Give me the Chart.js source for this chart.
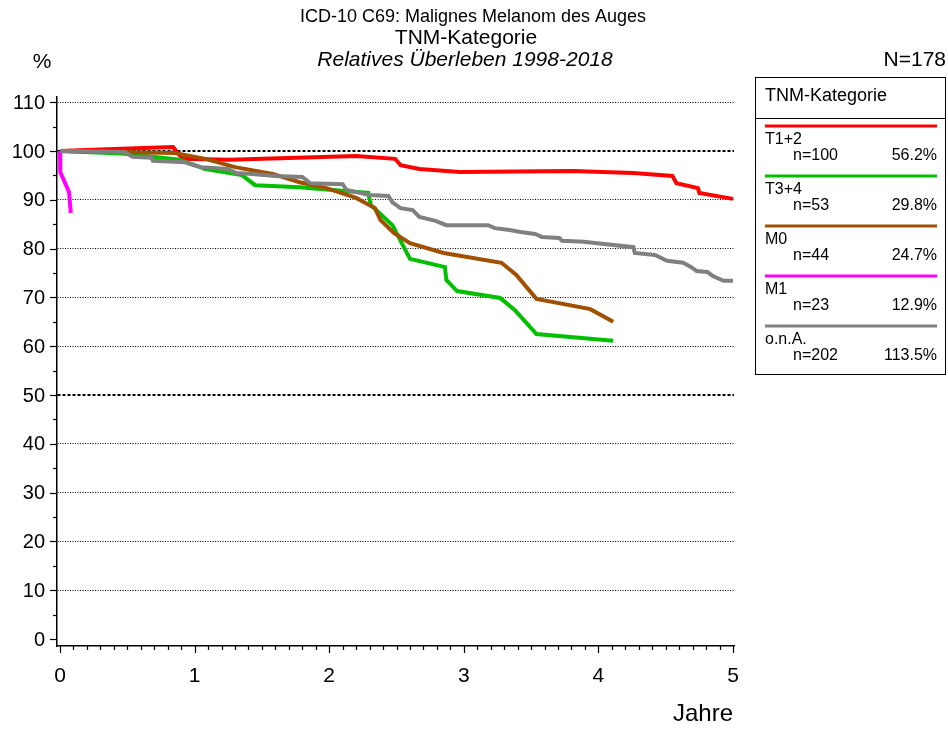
<!DOCTYPE html>
<html>
<head>
<meta charset="utf-8">
<script src="https://cdn.jsdelivr.net/npm/chart.js@4"></script>
<style>
    body { margin: 0; background: #fff; }
    #wrap { width: 948px; height: 729px; }
</style>
</head>
<body>
<div id="wrap"><canvas id="chart-survival" width="948" height="729"></canvas></div>
<script>
const CATEGORIES = ["T1+2", "T3+4", "M0", "M1", "o.n.A."];
const COUNTS = ["n=100", "n=53", "n=44", "n=23", "n=202"];
const SHARES = ["56.2%", "29.8%", "24.7%", "12.9%", "113.5%"];

const T12_YEARS = [0, 0.4, 0.84, 0.91, 1.26, 2.2, 2.49, 2.53, 2.67, 2.97, 3.81, 4.26, 4.55, 4.58, 4.74, 4.75, 5.0];
const T12_SURV = [100, 100.4, 100.8, 98.4, 98.2, 99.0, 98.4, 97.1, 96.3, 95.7, 95.9, 95.5, 94.9, 93.4, 92.4, 91.4, 90.2];

const T34_YEARS = [0, 0.46, 0.89, 1.0, 1.08, 1.35, 1.45, 1.78, 2.29, 2.31, 2.47, 2.6, 2.86, 2.87, 2.95, 3.27, 3.38, 3.54, 4.11];
const T34_SURV = [100, 99.5, 98.2, 97.1, 96.3, 95.1, 93.0, 92.6, 91.4, 88.9, 84.8, 77.9, 76.2, 73.6, 71.3, 69.9, 67.4, 62.5, 61.1];

const M0_YEARS = [0, 0.85, 1.08, 1.3, 1.58, 1.78, 1.98, 2.2, 2.34, 2.38, 2.48, 2.6, 2.85, 3.28, 3.39, 3.54, 3.94, 4.11];
const M0_SURV = [100, 99.6, 98.4, 96.7, 95.3, 93.6, 92.4, 90.4, 88.3, 85.9, 83.2, 81.1, 79.1, 77.1, 74.6, 69.7, 67.6, 65.0];

const M1_YEARS = [0, 0.002, 0.067, 0.08];
const M1_SURV = [100, 95.7, 91.6, 87.3];

const ONA_YEARS = [0, 0.48, 0.54, 0.68, 0.69, 0.93, 0.99, 1.05, 1.25, 1.31, 1.43, 1.6, 1.8, 1.86, 2.1, 2.13, 2.3, 2.44, 2.47, 2.53, 2.62, 2.67, 2.79, 2.87, 3.18, 3.23, 3.34, 3.42, 3.53, 3.58, 3.71, 3.73, 3.89, 4.26, 4.27, 4.42, 4.51, 4.63, 4.69, 4.73, 4.81, 4.85, 4.93, 5.0];
const ONA_SURV = [100, 99.8, 98.8, 98.6, 98.0, 97.7, 97.1, 96.7, 96.3, 95.5, 95.3, 94.9, 94.7, 93.4, 93.2, 92.0, 91.0, 90.8, 89.5, 88.3, 87.9, 86.5, 85.7, 84.8, 84.8, 84.2, 83.8, 83.4, 83.0, 82.4, 82.2, 81.6, 81.4, 80.3, 79.1, 78.7, 77.5, 77.1, 76.2, 75.4, 75.2, 74.4, 73.4, 73.4];

const Y_TICKS = [0, 10, 20, 30, 40, 50, 60, 70, 80, 90, 100, 110];
const X_TICKS = [0, 1, 2, 3, 4, 5];

const COLORS = ["#ff0000", "#00c000", "#a05000", "#ff00ff", "#808080"];
const FONT = "'Liberation Sans', Arial, sans-serif";

const pairs = (xs, ys) => xs.map((x, i) => ({ x, y: ys[i] }));
const series = [
    pairs(T12_YEARS, T12_SURV),
    pairs(T34_YEARS, T34_SURV),
    pairs(M0_YEARS, M0_SURV),
    pairs(M1_YEARS, M1_SURV),
    pairs(ONA_YEARS, ONA_SURV),
];

const isBold = (c) => c.tick && (c.tick.value === 50 || c.tick.value === 100);

// axes ticks, labels, titles and the boxed legend
const decorPlugin = {
    id: "decor",
    afterDraw(chart) {
        const { ctx, chartArea: area } = chart;
        const xs = chart.scales.x;
        const ys = chart.scales.y;
        ctx.save();
        ctx.strokeStyle = "#000";
        ctx.fillStyle = "#000";
        ctx.lineWidth = 1.2;

        for (let v = 0; v <= 110; v += 5) {
            const py = Math.round(ys.getPixelForValue(v)) + 0.5;
            const len = v % 10 === 0 ? 7 : 4;
            ctx.beginPath();
            ctx.moveTo(area.left - len, py);
            ctx.lineTo(area.left, py);
            ctx.stroke();
        }
        for (let i = 0; i <= 50; i++) {
            const px = Math.round(xs.getPixelForValue(i / 10)) + 0.5;
            const len = i % 10 === 0 ? 7 : 4;
            ctx.beginPath();
            ctx.moveTo(px, area.bottom);
            ctx.lineTo(px, area.bottom + len);
            ctx.stroke();
        }

        ctx.font = `20px ${FONT}`;
        ctx.textAlign = "right";
        ctx.textBaseline = "middle";
        Y_TICKS.forEach((v) => {
            ctx.fillText(String(v), 45, ys.getPixelForValue(v) + 1);
        });
        ctx.font = `21px ${FONT}`;
        ctx.textAlign = "center";
        X_TICKS.forEach((v) => {
            ctx.fillText(String(v), xs.getPixelForValue(v), 676);
        });

        ctx.font = `24px ${FONT}`;
        ctx.textAlign = "right";
        ctx.fillText("Jahre", 733, 714);

        ctx.textAlign = "center";
        ctx.font = `18px ${FONT}`;
        ctx.fillText("ICD-10 C69: Malignes Melanom des Auges", 473, 17);
        ctx.font = `21px ${FONT}`;
        ctx.fillText("TNM-Kategorie", 466, 38);
        ctx.font = `italic 21px ${FONT}`;
        ctx.fillText("Relatives Überleben 1998-2018", 465, 60);
        ctx.font = `21px ${FONT}`;
        ctx.fillText("%", 42, 62);
        ctx.textAlign = "right";
        ctx.fillText("N=178", 946, 60);

        // legend box
        ctx.lineWidth = 1;
        ctx.strokeRect(755.5, 77.5, 190, 297);
        ctx.beginPath();
        ctx.moveTo(755, 118.5);
        ctx.lineTo(946, 118.5);
        ctx.stroke();
        ctx.textAlign = "left";
        ctx.font = `18px ${FONT}`;
        ctx.fillText("TNM-Kategorie", 765, 96);

        CATEGORIES.forEach((name, i) => {
            const top = 126 + i * 50;
            ctx.strokeStyle = COLORS[i];
            ctx.lineWidth = 3;
            ctx.beginPath();
            ctx.moveTo(765, top);
            ctx.lineTo(937, top);
            ctx.stroke();
            ctx.font = `16px ${FONT}`;
            ctx.textAlign = "left";
            ctx.fillText(name, 765, top + 14);
            ctx.fillText(COUNTS[i], 793, top + 30);
            ctx.textAlign = "right";
            ctx.fillText(SHARES[i], 937, top + 30);
        });
        ctx.restore();
    },
};

const survivalChart = new Chart(document.getElementById("chart-survival"), {
    type: "line",
    data: {
        datasets: series.map((data, i) => ({
            label: CATEGORIES[i],
            data,
            borderColor: COLORS[i],
            borderWidth: 4,
            pointRadius: 0,
            tension: 0,
            order: 4 - i,
        })),
    },
    options: {
        responsive: false,
        animation: false,
        events: [],
        layout: { padding: { top: 97, right: 214, left: 0, bottom: 0 } },
        plugins: { legend: { display: false }, tooltip: { enabled: false } },
        scales: {
            x: {
                type: "linear",
                min: -0.0223,
                max: 5.0074,
                ticks: { display: false },
                grid: { display: false, drawTicks: false },
                border: { display: true, color: "#000", width: 1.5 },
                afterFit(scale) {
                    scale.height = 83;
                },
            },
            y: {
                type: "linear",
                min: -1.43,
                max: 111.07,
                afterBuildTicks(scale) {
                    scale.ticks = Y_TICKS.map((value) => ({ value }));
                },
                ticks: { display: false },
                grid: {
                    drawTicks: false,
                    color: (c) => (c.tick && c.tick.value === 0 ? "rgba(0,0,0,0)" : "#000"),
                    lineWidth: (c) => (isBold(c) ? 2 : 1),
                },
                border: {
                    display: true,
                    color: "#000",
                    width: 1.5,
                    dash: (c) => (isBold(c) ? [3, 2] : [1, 1.5]),
                },
                afterFit(scale) {
                    scale.width = 57;
                },
            },
        },
    },
    plugins: [decorPlugin],
});
</script>
</body>
</html>
